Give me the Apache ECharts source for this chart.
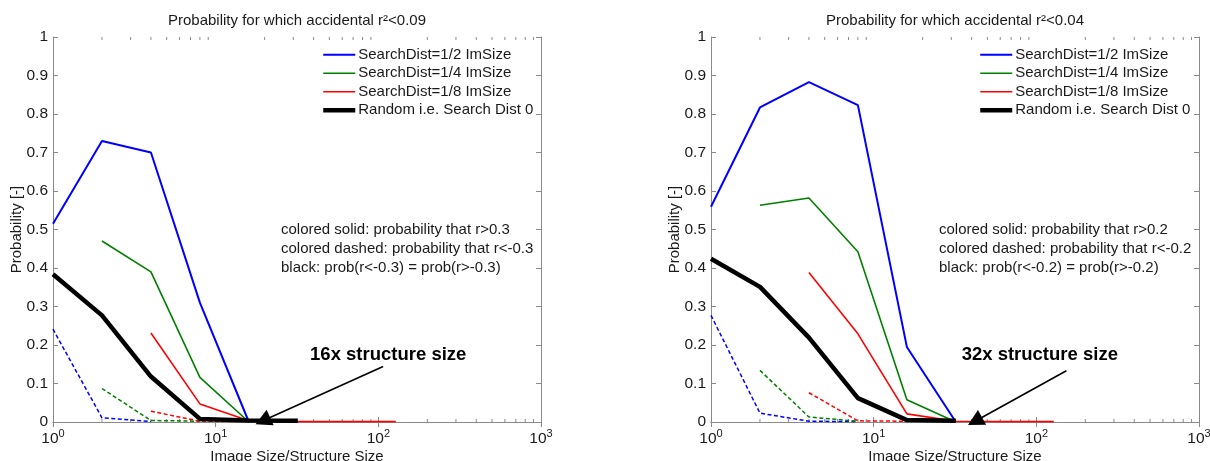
<!DOCTYPE html>
<html><head><meta charset="utf-8">
<script src="https://cdn.jsdelivr.net/npm/echarts@6/dist/echarts.min.js"></script>
<style>html,body{margin:0;padding:0;background:#fff}#c{width:1210px;height:461px}</style>
</head><body><div id="c"></div>
<script>
const xs = [1, 2, 4, 8, 16, 32, 64, 128];
const minorTicks = [2,3,4,5,6,7,8,9,20,30,40,50,60,70,80,90,200,300,400,500,600,700,800,900];
const seriesNames = ['SearchDist=1/2 ImSize','SearchDist=1/4 ImSize','SearchDist=1/8 ImSize','Random i.e. Search Dist 0'];
const titles = ['Probability for which accidental r\u00b2<0.09', 'Probability for which accidental r\u00b2<0.04'];
const notes = [
  ['colored solid: probability that r>0.3','colored dashed: probability that r<-0.3','black: prob(r<-0.3) = prob(r>-0.3)'],
  ['colored solid: probability that r>0.2','colored dashed: probability that r<-0.2','black: prob(r<-0.2) = prob(r>-0.2)']
];
const annotations = ['16x structure size', '32x structure size'];
const annotTextPos = [[115, 0.174], [105, 0.174]];
const arrowFrom = [[107, 0.144], [153, 0.133]];
const arrowTo = [[19.5, 0.003], [42, 0.002]];

// Left chart (r^2 < 0.09)
const L_blueSolid   = [0.515, 0.730, 0.700, 0.310, 0.000, null, null, null];
const L_greenSolid  = [null, 0.470, 0.390, 0.116, 0.000, null, null, null];
const L_redSolid    = [null, null, 0.231, 0.047, 0.003, 0.001, 0.001, 0.001];
const L_black       = [0.384, 0.277, 0.118, 0.008, 0.004, 0.003, null, null];
const L_blueDashed  = [0.241, 0.011, 0.001, null, null, null, null, null];
const L_greenDashed = [null, 0.087, 0.004, 0.002, null, null, null, null];
const L_redDashed   = [null, null, 0.028, 0.002, 0.001, null, null, null];
// Right chart (r^2 < 0.04)
const R_blueSolid   = [0.559, 0.817, 0.883, 0.823, 0.195, 0.000, null, null];
const R_greenSolid  = [null, 0.563, 0.582, 0.442, 0.058, 0.000, null, null];
const R_redSolid    = [null, null, 0.388, 0.229, 0.021, 0.002, 0.001, 0.001];
const R_black       = [0.424, 0.351, 0.219, 0.062, 0.005, 0.003, null, null];
const R_blueDashed  = [0.277, 0.023, 0.002, 0.001, null, null, null, null];
const R_greenDashed = [null, 0.134, 0.013, 0.002, null, null, null, null];
const R_redDashed   = [null, null, 0.076, 0.003, 0.002, 0.001, null, null];

const FONT = '"Liberation Sans", Arial, sans-serif';
const AX = '#8a8a8a';
const TXT = '#1a1a1a';
const gridsPx = [{left: 53, top: 37, width: 488, height: 385}, {left: 711, top: 37, width: 488, height: 385}];
const colors = ['#0000ff', '#008000', '#ff0000', '#000000'];
const widths = [2, 1.6, 1.6, 4.5];

function pairs(arr){ return xs.map((x,i)=>[x, arr[i]]); }

const chart = echarts.init(document.getElementById('c'), null, {renderer:'canvas'});

const xAxis = [], yAxis = [], series = [], legend = [], graphic = [];
[0,1].forEach(g => {
  const base = {type:'log', logBase:10, min:1, max:1000, gridIndex:g,
    axisLine:{lineStyle:{color:AX, width:1}},
    axisTick:{inside:true, length:5, lineStyle:{color:AX}},
    splitLine:{show:false}};
  xAxis.push(Object.assign({}, base, {position:'bottom',
    name:'Image Size/Structure Size', nameLocation:'middle', nameGap:27, nameMoveOverlap:false,
    nameTextStyle:{fontFamily:FONT, fontSize:15, color:TXT},
    axisLabel:{margin:3, color:TXT, fontFamily:FONT,
      formatter: v => '{b|10}{s|' + Math.round(Math.log10(v)) + '}',
      rich:{b:{fontSize:15.5, fontFamily:FONT, color:TXT, padding:[6,0,0,0]}, s:{fontSize:11, fontFamily:FONT, color:TXT, padding:[0,0,4,0]}}}}));
  xAxis.push(Object.assign({}, base, {position:'top', axisLabel:{show:false}}));
  const ybase = {type:'value', min:0, max:1, interval:0.1, gridIndex:g,
    axisLine:{lineStyle:{color:AX}}, axisTick:{inside:true, length:5, lineStyle:{color:AX}}, splitLine:{show:false}};
  yAxis.push(Object.assign({}, ybase, {position:'left',
    name:'Probability [-]', nameLocation:'middle', nameGap:29, nameRotate:90, nameMoveOverlap:false,
    nameTextStyle:{fontFamily:FONT, fontSize:15, color:TXT},
    axisLabel:{margin:5, fontSize:15.5, fontFamily:FONT, color:TXT, formatter: v => String(+v.toFixed(1))}}));
  yAxis.push(Object.assign({}, ybase, {position:'right', axisLabel:{show:false}}));
});

function addSeries(g, name, data, color, width, dashed, extra){
  series.push(Object.assign({type:'line', name:name, xAxisIndex:2*g, yAxisIndex:2*g,
    data:pairs(data), symbol:'none', showSymbol:false, connectNulls:false, animation:false,
    lineStyle:{color:color, width:width, type: dashed ? [4,2.5] : 'solid'},
    itemStyle:{color:color}, z: dashed ? 3 : 4}, extra||{}));
}

const sets = [
  [L_blueSolid, L_greenSolid, L_redSolid, L_black, L_blueDashed, L_greenDashed, L_redDashed],
  [R_blueSolid, R_greenSolid, R_redSolid, R_black, R_blueDashed, R_greenDashed, R_redDashed]
];
[0,1].forEach(g => {
  const s = sets[g];
  addSeries(g, seriesNames[0], s[0], colors[0], widths[0], false);
  addSeries(g, seriesNames[1], s[1], colors[1], widths[1], false);
  addSeries(g, seriesNames[2], s[2], colors[2], widths[2], false);
  addSeries(g, seriesNames[3], s[3], colors[3], widths[3], false, {z:5,
    markLine:{silent:true, symbol:['none','triangle'], symbolSize:[17,16], animation:false,
      lineStyle:{color:'#000', width:1.6, type:'solid'}, label:{show:false},
      data:[[{coord:arrowFrom[g]}, {coord:arrowTo[g]}]]},
    markPoint:{silent:true, symbol:'circle', symbolSize:0, animation:false,
      label:{show:true, position:'inside', formatter: annotations[g], fontFamily:FONT, fontSize:18.5, fontWeight:'bold', color:'#000'},
      data:[{coord:annotTextPos[g]}]}});
  addSeries(g, 'dashedBlue'+g, s[4], colors[0], 1.5, true);
  addSeries(g, 'dashedGreen'+g, s[5], colors[1], 1.5, true);
  addSeries(g, 'dashedRed'+g, s[6], colors[2], 1.5, true);
  // minor log ticks (top and bottom)
  series.push({type:'custom', xAxisIndex:2*g, yAxisIndex:2*g, silent:true, clip:false, animation:false,
    data: minorTicks.map(v=>[v]),
    renderItem: (params, api) => {
      const b = api.coord([api.value(0), 0]);
      const t = api.coord([api.value(0), 1]);
      const st = {stroke:AX, lineWidth:1};
      return {type:'group', children:[
        {type:'line', shape:{x1:b[0], y1:b[1], x2:b[0], y2:b[1]-3}, style:st},
        {type:'line', shape:{x1:t[0], y1:t[1], x2:t[0], y2:t[1]+3}, style:st}
      ]};
    }});
  legend.push({data:seriesNames.map((n,i)=>({name:n, lineStyle:{width:widths[i], color:colors[i]}})),
    orient:'vertical', left: g===0 ? 321 : 978, top:47.3, padding:0,
    itemWidth:32, itemHeight:14, itemGap:3.5, itemStyle:{opacity:0, borderWidth:0}, selectedMode:false,
    textStyle:{fontFamily:FONT, fontSize:15, color:TXT, padding:[0,0,0,-2]}});
  const gp = gridsPx[g];
  graphic.push({type:'text', x: gp.left + gp.width/2, y: 21, silent:true,
    style:{text:titles[g], fontFamily:FONT, fontSize:15, fill:TXT, textAlign:'center', textVerticalAlign:'middle'}});
  graphic.push({type:'text', x: g===0 ? 281 : 939, y: 220.5, silent:true,
    style:{text:notes[g].join('\n'), fontFamily:FONT, fontSize:15, lineHeight:18.8, fill:TXT, textAlign:'left', textVerticalAlign:'top'}});
});

chart.setOption({
  animation:false,
  backgroundColor:'#fff',
  grid: gridsPx.map(p => Object.assign({containLabel:false, outerBoundsMode:'none'}, p)),
  xAxis, yAxis, series, legend, graphic
});
</script></body></html>
